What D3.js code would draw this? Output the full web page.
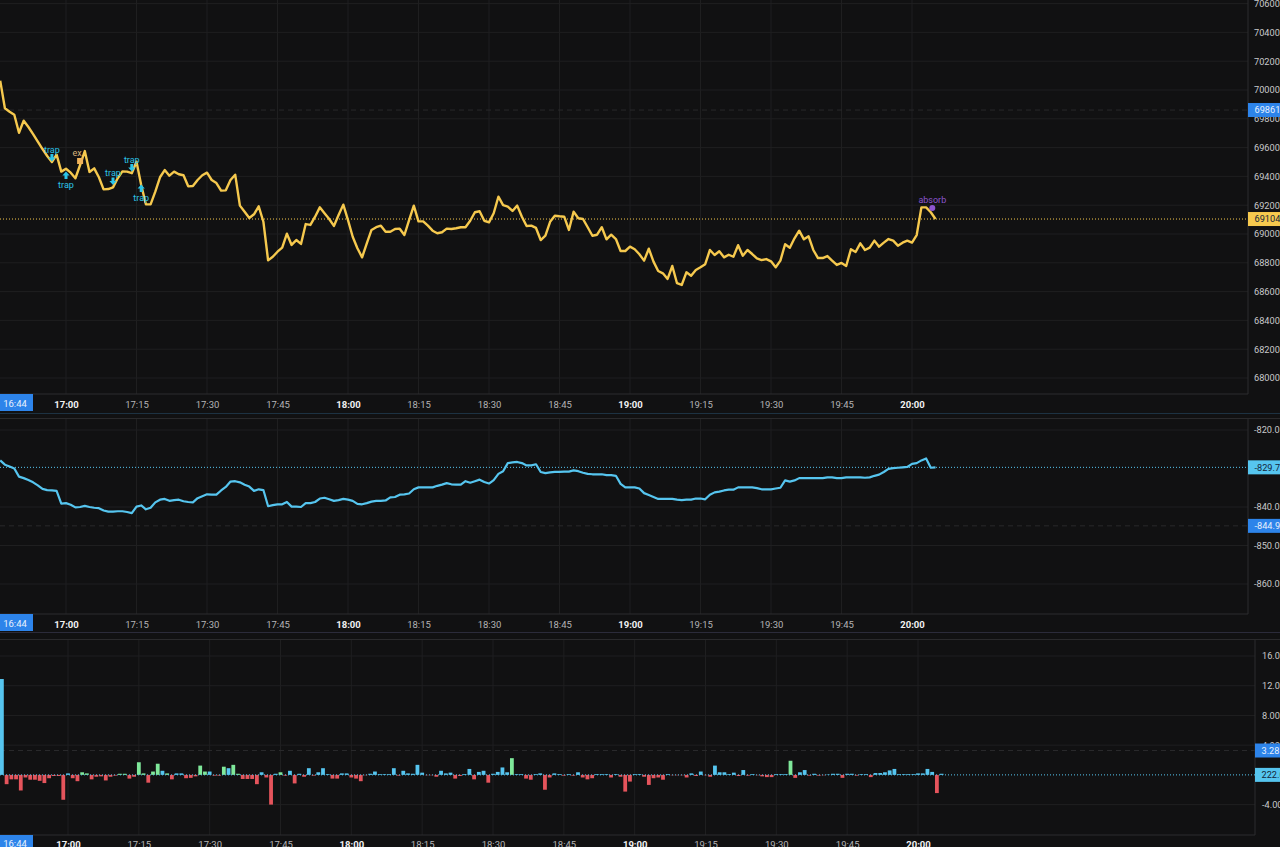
<!doctype html>
<html>
<head>
<meta charset="utf-8">
<title>price / cvd / delta</title>
<script src="https://d3js.org/d3.v7.min.js"></script>
<style type="text/css">
	html, body { margin: 0; padding: 0; background: #111112; overflow: hidden; }
	svg { display: block; }
	text { font-family: Roboto, "Noto Sans", sans-serif; }
	.domain { display: none; }
</style>
</head>
<body>
<script>
	// one value per minute, starting at 16:46
	var priceValues = [70065,69873,69849,69828,69703,69787,69743,69694,69641,69590,69542,69500,69551,69433,69453,69426,69387,69479,69576,69431,
		69456,69394,69310,69312,69324,69387,69435,69433,69422,69502,69340,69206,69206,69294,69394,69444,69405,69433,69415,69408,
		69331,69333,69375,69408,69426,69375,69354,69301,69303,69375,69412,69197,69155,69111,69137,69192,69085,68817,68842,68877,
		68905,69002,68924,68958,68931,69069,69063,69120,69185,69144,69104,69056,69132,69204,69097,68981,68901,68838,68935,69028,
		69047,69058,69016,69016,69035,69037,68993,69097,69197,69088,69088,69058,69023,69005,69012,69037,69035,69040,69047,69047,
		69092,69151,69158,69092,69081,69144,69259,69201,69190,69160,69197,69120,69056,69058,69042,68958,68988,69085,69127,69123,
		69120,69028,69155,69109,69104,69047,68988,68995,69047,68963,68995,68965,68882,68882,68912,68894,68859,68815,68898,68808,
		68743,68727,68688,68778,68658,68646,68734,68710,68750,68769,68790,68889,68854,68880,68838,68856,68842,68922,68849,68889,
		68861,68831,68819,68826,68810,68769,68815,68929,68905,68970,69023,68963,68984,68889,68833,68833,68847,68815,68785,68799,
		68778,68894,68875,68935,68889,68905,68954,68912,68940,68965,68954,68919,68940,68954,68940,68993,69185,69185,69151,69104];

	var cvdValues = [-827.9,-829.0,-829.5,-830.0,-832.1,-832.5,-833.0,-833.6,-834.4,-835.3,-835.6,-835.7,-835.8,-839.1,-839.0,-839.4,-840.1,-840.0,-839.7,-840.0,
		-840.2,-840.3,-840.9,-841.2,-841.2,-841.1,-841.1,-841.3,-841.6,-839.9,-839.6,-840.6,-840.2,-838.8,-838.1,-837.9,-838.4,-838.2,-838.1,-838.5,
		-838.7,-838.8,-837.7,-837.2,-836.7,-836.8,-836.8,-835.7,-834.8,-833.4,-833.3,-833.6,-834.2,-834.7,-835.8,-835.4,-835.6,-839.8,-839.5,-839.3,
		-839.3,-838.7,-839.9,-839.9,-840.0,-839.0,-839.0,-838.7,-837.8,-837.6,-838.0,-838.4,-838.2,-837.9,-838.1,-838.4,-839.2,-839.3,-839.0,-838.6,
		-838.4,-838.4,-838.3,-837.5,-837.4,-836.8,-836.7,-836.5,-835.4,-834.9,-834.9,-834.9,-834.9,-834.5,-834.2,-833.8,-834.1,-834.2,-834.2,-833.3,
		-833.7,-833.3,-832.9,-833.5,-833.9,-833.0,-831.4,-830.7,-828.6,-828.4,-828.3,-828.6,-829.2,-829.2,-828.9,-830.9,-831.2,-831.0,-830.9,-830.9,
		-830.8,-830.8,-830.5,-830.7,-831.1,-831.4,-831.5,-831.5,-831.5,-831.7,-831.7,-831.9,-834.0,-834.9,-834.9,-834.9,-835.2,-836.4,-836.9,-837.4,
		-837.9,-837.9,-837.9,-837.9,-838.1,-838.2,-838.1,-838.1,-837.8,-837.8,-838.0,-836.8,-836.2,-836.0,-835.7,-835.5,-835.5,-834.9,-834.9,-834.9,
		-834.9,-835.1,-835.4,-835.4,-835.4,-835.2,-835.0,-833.1,-833.4,-833.1,-832.5,-832.5,-832.5,-832.5,-832.5,-832.5,-832.3,-832.3,-832.5,-832.5,
		-832.3,-832.3,-832.3,-832.3,-832.4,-832.3,-831.9,-831.6,-830.9,-830.1,-829.9,-829.8,-829.7,-829.6,-828.8,-828.6,-827.9,-827.4,-829.8,-829.7];

	var deltaValues = [12.9,-1.25,-.6,-.6,-2.1,-.35,-.65,-.65,-.8,-1.1,-.45,-.15,-.15,-3.35,.2,-.45,-.85,.35,.2,-.6,
		-.25,-.2,-.75,-.25,-.1,.15,.15,-.5,-.25,1.7,.2,-1.05,.45,1.5,.55,.2,-.6,.2,.2,-.45,
		-.4,-.2,1.25,.45,.45,-.1,-.1,1.1,.9,1.35,.15,-.55,-.55,-.55,-1.25,.35,-.35,-4,.15,.35,
		-.1,.55,-1.15,.15,-.25,.9,-.1,.35,.9,.1,-.5,-.5,.2,.2,-.35,-.5,-.85,-.05,.15,.45,
		.1,.1,.1,.9,-.1,.55,.2,.15,1.35,.3,-.05,-.05,-.25,.55,.2,.3,-.5,-.15,.1,.8,
		-.6,.4,.55,-1.05,.15,.4,1,.35,2.25,.1,.1,-.5,-.65,.1,.2,-2,-.35,.2,.1,-.1,
		.1,-.1,.35,-.35,-.6,-.45,.1,.1,.1,-.35,.1,-.25,-2.25,-.9,.1,.1,-.25,-1.35,-.45,-.35,
		-.65,.1,-.05,-.05,-.05,-.35,.2,-.15,.45,-.05,-.25,1.25,.35,.35,.1,.3,-.15,.65,-.1,.1,
		-.05,-.2,-.3,-.3,.1,.1,.1,1.9,-.4,.35,.65,-.1,.15,-.1,-.05,.05,.15,.15,-.4,.15,
		.15,-.1,.1,.1,-.3,.25,.25,.35,.6,.8,.1,.1,.1,.1,.2,.2,.8,.4,-2.45,.15];
	var deltaStrong = [17,18,25,26,29,30,32,33,35,42,43,47,49,50,59,108,167];

	var priceTicks = [70600,70400,70200,70000,69800,69600,69400,69200,69000,68800,68600,68400,68200,68000];
	var cvdTicks = [-820,-840,-850,-860];
	var deltaTicks = [16,12,8,4,-4];

	var markerIndex = [11,14,17,24,28,30,198];
	var markerValue = [69528,69410,69507,69365,69458,69319,69181];
	var markerText = ["trap","trap","ex","trap","trap","trap","absorb"];
	var markerKind = ["down","up","square","down","down","up","dot"];

	var crossTime = "16:44";
	var crossPrice = 69861, lastPrice = 69104;
	var crossCvd = -844.9, lastCvd = -829.7;
	var crossDelta = 3.28, lastDelta = 0;

	var w = 1280, h = 847;
	var gridColor = "#1f1f20", borderColor = "#2c2c2e";
	var yellow = "#f6c94e", cyan = "#56c5ef", blue = "#2d84ea";
	var green = "#7fe89a", red = "#e5545c", purple = "#8e55cf";

	var svg = d3.select("body").append("svg").attr("width", w).attr("height", h);
	svg.append("rect").attr("width", w).attr("height", h).attr("fill", "#111112");

	var startTime = Date.UTC(2024, 0, 1, 16, 46);
	var times = priceValues.map(function(d, i) { return new Date(startTime + i * 60000); });
	var hourFrom = new Date(Date.UTC(2024, 0, 1, 17, 0));
	var hourTo = new Date(Date.UTC(2024, 0, 1, 20, 0));
	var timeTicks = d3.utcMinute.every(15).range(hourFrom, new Date(+hourTo + 1));
	var formatTime = d3.utcFormat("%H:%M");

	var x1 = d3.scaleUtc().domain([hourFrom, hourTo]).range([66, 912]);
	var x3 = d3.scaleUtc().domain([hourFrom, hourTo]).range([68, 918]);

	var yPrice = d3.scaleLinear().domain([70000, 68000]).range([90, 378]);
	var yCvd = d3.scaleLinear().domain([-820, -860]).range([430, 584]);
	var yDelta = d3.scaleLinear().domain([16, -4]).range([656, 804.6]);

	// panel frame, grid, axes. returns layer for the marks
	function panel(o) {
		var g = svg.append("g");
		var id = "clip" + o.top;
		svg.append("clipPath").attr("id", id).append("rect")
			.attr("x", 0).attr("y", o.top).attr("width", o.right).attr("height", o.bottom - o.top);

		g.append("g").selectAll("line").data(timeTicks).enter().append("line")
			.attr("x1", function(d) { return o.x(d); })
			.attr("x2", function(d) { return o.x(d); })
			.attr("y1", o.top).attr("y2", o.bottom)
			.attr("stroke", gridColor);

		g.append("g").selectAll("line").data(o.ticks).enter().append("line")
			.attr("x1", 0).attr("x2", o.right)
			.attr("y1", function(d) { return o.y(d); })
			.attr("y2", function(d) { return o.y(d); })
			.attr("stroke", gridColor);

		g.append("line").attr("x1", 0).attr("x2", o.right).attr("y1", o.bottom).attr("y2", o.bottom).attr("stroke", borderColor);
		g.append("line").attr("x1", o.right).attr("x2", o.right).attr("y1", o.top).attr("y2", o.bottom).attr("stroke", borderColor);

		// crosshair level
		g.append("line").attr("x1", 0).attr("x2", o.right)
			.attr("y1", o.y(o.cross)).attr("y2", o.y(o.cross))
			.attr("stroke", "#29292b").attr("stroke-dasharray", "5,4");

		var marks = g.append("g").attr("clip-path", "url(#" + id + ")");

		// last value level
		g.append("line").attr("x1", 0).attr("x2", o.right)
			.attr("y1", o.y(o.last)).attr("y2", o.y(o.last))
			.attr("stroke", o.color).attr("stroke-width", 1).attr("stroke-dasharray", "1,2");

		var yAxis = d3.axisRight(o.y).tickValues(o.ticks).tickSize(0).tickPadding(o.valuePad).tickFormat(function(d) { return d.toFixed(o.dec); });
		var ya = g.append("g").attr("transform", "translate(" + o.right + ",0)").call(yAxis);
		ya.selectAll("text").attr("fill", "#c9c9cb").attr("font-size", 9.2);

		var xAxis = d3.axisBottom(o.x).tickValues(timeTicks).tickSize(0).tickPadding(o.timePad).tickFormat(formatTime);
		var xa = g.append("g").attr("transform", "translate(0," + o.bottom + ")").call(xAxis);
		xa.selectAll("text")
			.attr("font-size", 9.5)
			.attr("fill", function(d) { return d.getUTCMinutes() == 0 ? "#f2f2f2" : "#b4b4b6"; })
			.attr("font-weight", function(d) { return d.getUTCMinutes() == 0 ? 700 : 400; });

		// time crosshair tag
		g.append("rect").attr("x", 0).attr("y", o.bottom).attr("width", 33).attr("height", o.tagH).attr("fill", blue);
		g.append("text").attr("x", 15).attr("y", o.timePad + o.bottom + 6).attr("text-anchor", "middle")
			.attr("font-size", 9.5).attr("fill", "#e8f1fd").text(crossTime);

		tag(o, o.cross, o.cross.toFixed(o.dec), blue, "#e8f1fd");
		tag(o, o.last, o.lastText, o.color, "#14253a");
		return marks;
	}

	function tag(o, v, txt, bg, fg) {
		svg.append("rect").attr("x", o.right).attr("y", o.y(v) - 7).attr("width", w - o.right).attr("height", 14).attr("fill", bg);
		svg.append("text").attr("x", o.right + 6.5).attr("y", o.y(v) + 3.3).attr("font-size", 9.2).attr("fill", fg).text(txt);
	}

	var priceMarks = panel({ top: 0, bottom: 394, right: 1248, x: x1, y: yPrice, ticks: priceTicks, tagH: 17, timePad: 7, valuePad: 6,
		cross: crossPrice, last: lastPrice, color: yellow, dec: 0, lastText: String(lastPrice) });
	var cvdMarks = panel({ top: 419, bottom: 614, right: 1248, x: x1, y: yCvd, ticks: cvdTicks, tagH: 17, timePad: 7, valuePad: 6,
		cross: crossCvd, last: lastCvd, color: cyan, dec: 1, lastText: String(lastCvd) });
	var deltaMarks = panel({ top: 640, bottom: 835, right: 1255, x: x3, y: yDelta, ticks: deltaTicks, tagH: 12, timePad: 6, valuePad: 7,
		cross: crossDelta, last: lastDelta, color: cyan, dec: 2, lastText: "222.00" });

	// separators between panels
	svg.append("rect").attr("x", 0).attr("y", 413).attr("width", w).attr("height", 1).attr("fill", "#1d3242");
	svg.append("rect").attr("x", 0).attr("y", 418).attr("width", w).attr("height", 1).attr("fill", "#2a2a2c");
	svg.append("rect").attr("x", 0).attr("y", 632).attr("width", w).attr("height", 1).attr("fill", "#2b2b3a");
	svg.append("rect").attr("x", 0).attr("y", 639).attr("width", w).attr("height", 1).attr("fill", "#2a2a2c");

	var priceLine = d3.line()
		.x(function(d, i) { return x1(times[i]); })
		.y(function(d) { return yPrice(d); });
	priceMarks.append("path").attr("d", priceLine(priceValues))
		.attr("fill", "none").attr("stroke", yellow).attr("stroke-width", 2.4).attr("stroke-linejoin", "round");

	var cvdLine = d3.line()
		.x(function(d, i) { return x1(times[i]); })
		.y(function(d) { return yCvd(d); });
	cvdMarks.append("path").attr("d", cvdLine(cvdValues))
		.attr("fill", "none").attr("stroke", cyan).attr("stroke-width", 2.2).attr("stroke-linejoin", "round");

	var barW = 3.8;
	deltaMarks.selectAll("rect.bar").data(deltaValues).enter().append("rect")
		.attr("class", "bar")
		.attr("x", function(d, i) { return x3(times[i]) - barW / 2; })
		.attr("width", barW)
		.attr("y", function(d) { return yDelta(Math.max(d, 0)); })
		.attr("height", function(d) { return Math.abs(yDelta(d) - yDelta(0)); })
		.attr("fill", function(d, i) {
			if (d < 0) return red;
			return deltaStrong.indexOf(i) >= 0 ? green : cyan;
		});

	// signal markers
	var markerColor = { down: "#2cc4e8", up: "#2cc4e8", square: "#f0b35a", dot: purple };
	var arrowDown = "M-1.5,-4L1.5,-4L1.5,-0.5L3.6,-0.5L0,3.5L-3.6,-0.5L-1.5,-0.5Z";
	var arrowUp = "M-1.5,4L1.5,4L1.5,0.5L3.6,0.5L0,-3.5L-3.6,0.5L-1.5,0.5Z";
	var marker = priceMarks.selectAll("g.marker").data(markerIndex).enter().append("g")
		.attr("class", "marker")
		.attr("transform", function(d, i) { return "translate(" + x1(times[d]) + "," + yPrice(markerValue[i]) + ")"; });

	marker.each(function(d, i) {
		var m = d3.select(this), kind = markerKind[i], c = markerColor[kind];
		if (kind == "down") m.append("path").attr("d", arrowDown).attr("fill", c);
		if (kind == "up") m.append("path").attr("d", arrowUp).attr("fill", c);
		if (kind == "square") m.append("rect").attr("x", -3).attr("y", -3).attr("width", 6).attr("height", 6).attr("fill", c);
		if (kind == "dot") m.append("circle").attr("cx", 1.5).attr("r", 3).attr("fill", c);
		m.append("text")
			.attr("x", kind == "square" ? -3 : kind == "dot" ? 1.5 : 0)
			.attr("y", kind == "up" ? 13 : -5)
			.attr("text-anchor", "middle")
			.attr("font-size", 9)
			.attr("fill", kind == "square" ? "#d9b27a" : c)
			.text(markerText[i]);
	});
</script>
</body>
</html>
